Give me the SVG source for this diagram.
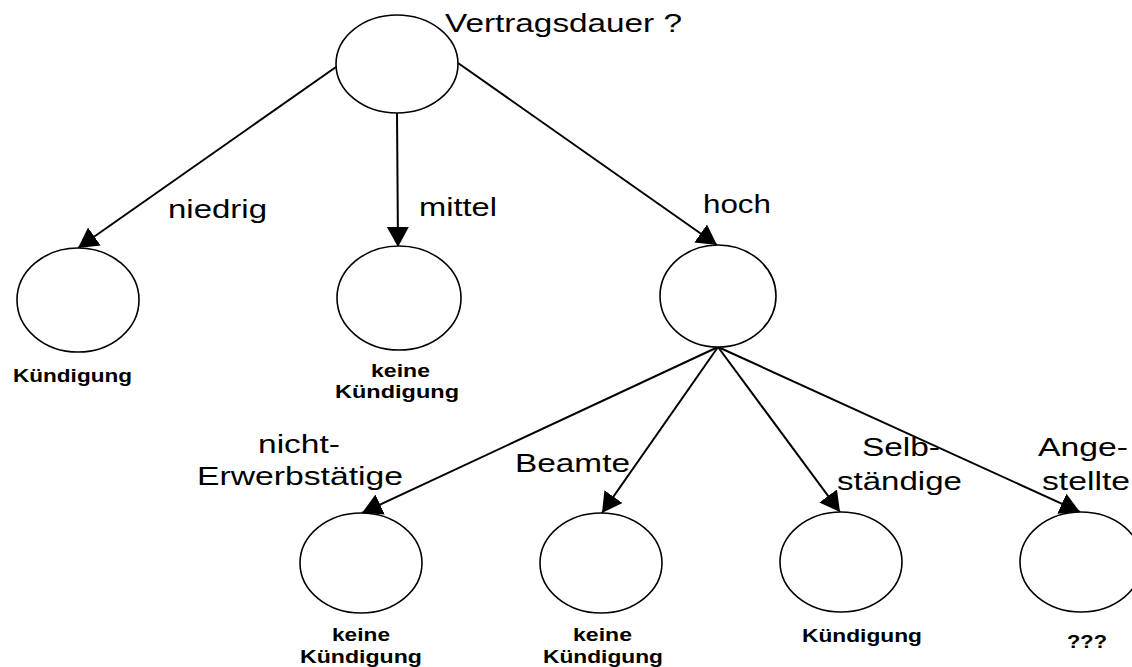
<svg xmlns="http://www.w3.org/2000/svg" width="1132" height="667" viewBox="0 0 1132 667">
  <style>
    .node { fill: #fff; stroke: #000; stroke-width: 1.6; }
    .edge { stroke: #000; stroke-width: 2; fill: none; marker-end: url(#arrow); }
    .lbl { font-family: "Liberation Sans", Arial, sans-serif; font-size: 26px; fill: #000; }
    .res { font-family: "Liberation Sans", Arial, sans-serif; font-size: 18px; font-weight: bold; fill: #000; }
  </style>
  <defs>
    <marker id="arrow" markerUnits="userSpaceOnUse" markerWidth="22" markerHeight="24" refX="20" refY="12" orient="auto">
      <path d="M0,1 L20,12 L0,23 Z" fill="#000"/>
    </marker>
  </defs>
  <rect width="1132" height="667" fill="#fff"/>

  <g id="connectors">
    <line class="edge" x1="336" y1="67" x2="78" y2="248"/>
    <line class="edge" x1="397" y1="113" x2="398" y2="247"/>
    <line class="edge" x1="458" y1="63" x2="717" y2="245"/>
    <line class="edge" x1="718" y1="347" x2="362" y2="513"/>
    <line class="edge" x1="718" y1="347" x2="602" y2="513"/>
    <line class="edge" x1="718" y1="347" x2="840" y2="512"/>
    <line class="edge" x1="718" y1="347" x2="1080" y2="512"/>
  </g>

  <g id="root">
    <ellipse class="node" cx="397" cy="64" rx="61" ry="49"/>
    <text class="lbl" x="445" y="32" textLength="237" lengthAdjust="spacingAndGlyphs">Vertragsdauer ?</text>
  </g>

  <g id="low">
    <ellipse class="node" cx="78" cy="300" rx="61" ry="52"/>
    <text class="res" x="13" y="382" textLength="119" lengthAdjust="spacingAndGlyphs">Kündigung</text>
  </g>

  <g id="medium">
    <ellipse class="node" cx="399" cy="298" rx="62" ry="52"/>
    <text class="res" x="371" y="377" textLength="59" lengthAdjust="spacingAndGlyphs">keine</text>
    <text class="res" x="335" y="398" textLength="124" lengthAdjust="spacingAndGlyphs">Kündigung</text>
  </g>

  <g id="high">
    <ellipse class="node" cx="718" cy="296" rx="58" ry="51"/>
  </g>

  <g id="nonworking">
    <ellipse class="node" cx="361" cy="563" rx="61" ry="50"/>
    <text class="res" x="332" y="641" textLength="58" lengthAdjust="spacingAndGlyphs">keine</text>
    <text class="res" x="300" y="663" textLength="122" lengthAdjust="spacingAndGlyphs">Kündigung</text>
  </g>

  <g id="civilservants">
    <ellipse class="node" cx="601" cy="563" rx="61" ry="50"/>
    <text class="res" x="573" y="641" textLength="59" lengthAdjust="spacingAndGlyphs">keine</text>
    <text class="res" x="543" y="663" textLength="120" lengthAdjust="spacingAndGlyphs">Kündigung</text>
  </g>

  <g id="selfemployed">
    <ellipse class="node" cx="841" cy="562" rx="61" ry="50"/>
    <text class="res" x="802" y="642" textLength="120" lengthAdjust="spacingAndGlyphs">Kündigung</text>
  </g>

  <g id="employees">
    <ellipse class="node" cx="1081" cy="562" rx="61" ry="50"/>
    <text class="res" x="1067" y="648" textLength="40" lengthAdjust="spacingAndGlyphs">???</text>
  </g>

  <g id="edge-labels">
    <text class="lbl" x="168" y="218" textLength="99" lengthAdjust="spacingAndGlyphs">niedrig</text>
    <text class="lbl" x="419" y="216" textLength="78" lengthAdjust="spacingAndGlyphs">mittel</text>
    <text class="lbl" x="703" y="213" textLength="68" lengthAdjust="spacingAndGlyphs">hoch</text>
    <text class="lbl" x="258" y="453" textLength="82" lengthAdjust="spacingAndGlyphs">nicht-</text>
    <text class="lbl" x="197" y="485" textLength="206" lengthAdjust="spacingAndGlyphs">Erwerbstätige</text>
    <text class="lbl" x="515" y="472" textLength="115" lengthAdjust="spacingAndGlyphs">Beamte</text>
    <text class="lbl" x="862" y="456" textLength="78" lengthAdjust="spacingAndGlyphs">Selb-</text>
    <text class="lbl" x="837" y="490" textLength="125" lengthAdjust="spacingAndGlyphs">ständige</text>
    <text class="lbl" x="1038" y="456" textLength="90" lengthAdjust="spacingAndGlyphs">Ange-</text>
    <text class="lbl" x="1042" y="490" textLength="88" lengthAdjust="spacingAndGlyphs">stellte</text>
  </g>
</svg>
